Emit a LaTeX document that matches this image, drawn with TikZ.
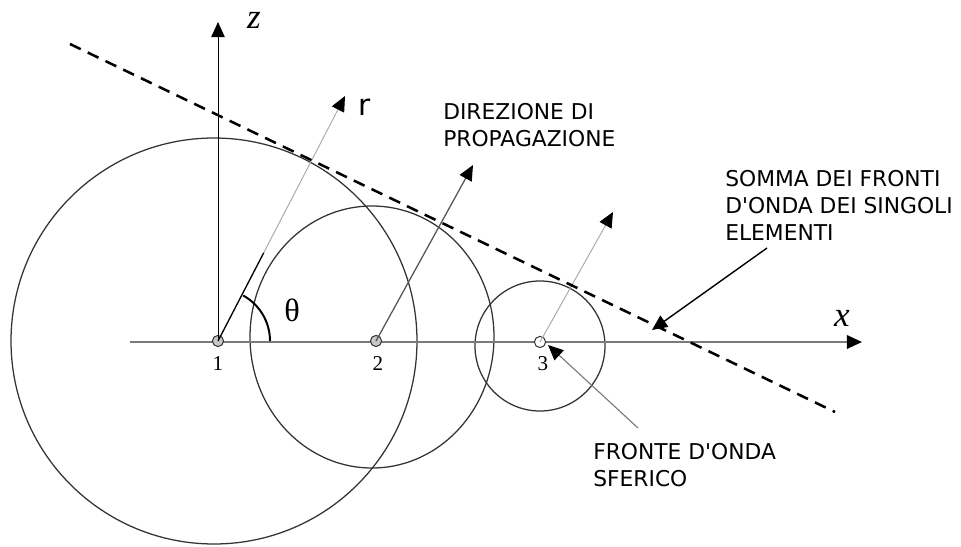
\documentclass[tikz,border=0pt]{standalone}
\usepackage{fontspec}
\setmainfont{Liberation Serif}
\newfontfamily\notefont{DejaVu Sans}
\usetikzlibrary{arrows.meta,calc}
\definecolor{wavegray}{HTML}{333333}
\definecolor{axisgray}{HTML}{7A7A7A}
\definecolor{raylight}{HTML}{ABABAB}
\definecolor{raydark}{HTML}{555555}

\begin{document}
\begin{tikzpicture}[
  x=0.25mm, y=0.25mm,
  every node/.style={inner sep=0pt},
  notetext/.style={font=\notefont\fontsize{15.5}{19.1}\selectfont,align=left,anchor=north west},
  axislabel/.style={font=\fontsize{25}{30}\selectfont\itshape},
  srcnum/.style={font=\fontsize{15}{18}\selectfont},
  source/.style={circle,draw=wavegray,line width=0.7pt,minimum size=2.8mm,fill=gray!45},
  wavefront/.style={draw=wavegray,line width=0.9pt},
  headarrow/.style={-{Triangle[length=3.8mm,width=3.4mm,black]}},
  axisline/.style={headarrow,draw=axisgray,line width=1.4pt},
  rayline/.style={headarrow,line width=0.7pt},
  sumline/.style={black,dashed,line width=1.8pt,dash pattern=on 8.5pt off 5.5pt}
]
\useasboundingbox (0,0) rectangle (961,-547);

% spherical wavefronts
\draw[wavefront] (214,-341) circle[radius=203];
\draw[wavefront] (372,-337) ellipse[x radius=122, y radius=131];
\draw[wavefront] (540,-346) circle[radius=65];

% axes
\coordinate (xstart) at (130,-342);
\coordinate (xend) at (862,-342);
\coordinate (ztop) at (218,-22);
\draw[axisline] (xstart) -- (xend);

% sources
\node[source] (src1) at (218,-341) {};
\node[source] (src2) at (376,-341) {};
\node[source,fill=white] (src3) at (540,-342) {};
\draw[headarrow,black,line width=0.7pt] (src1.center) -- (ztop);

% propagation rays
\coordinate (rtip) at (345,-96);
\coordinate (ptip) at (473,-165);
\coordinate (ftip) at (613,-212);
\draw[rayline,raylight] (src1.center) -- (rtip);
\draw[black,line width=0.9pt] (src1.center) -- ($(src1.center)!0.36!(rtip)$);
\draw[rayline,raydark,line width=0.9pt] (src2.center) -- (ptip);
\draw[rayline,raylight] (src3.center) -- (ftip);
\draw[black,line width=1.4pt] ([xshift=13mm]src1.center) arc[start angle=0,end angle=61,radius=52];

% envelope
\coordinate (envA) at (70,-44);
\coordinate (envB) at (835,-412);
\draw[sumline] (envA) -- (envB);

% labels
\node[axislabel] (zlab) at (254,-20) {z};
\node[axislabel] (xlab) at (842,-318) {x};
\node[font=\fontsize{23}{26}\selectfont] (theta) at (292,-310) {θ};
\node[font=\notefont\fontsize{21}{24}\selectfont] (rlab) at (365,-107) {r};
\node[srcnum] (n1) at (218,-364) {1};
\node[srcnum] (n2) at (378,-364) {2};
\node[srcnum] (n3) at (543,-364) {3};

\node[notetext] (direz) at (443,-103) {DIREZIONE DI\\PROPAGAZIONE};
\node[notetext] (somma) at (725,-170) {SOMMA DEI FRONTI\\D'ONDA DEI SINGOLI\\ELEMENTI};
\node[notetext] (fronte) at (593,-443) {FRONTE D'ONDA\\SFERICO};

\coordinate (sommafoot) at (767,-248);
\coordinate (sommatip) at (652,-330);
\coordinate (frontefoot) at (638,-428);
\coordinate (frontetip) at (548,-345);
\draw[headarrow,black,line width=1pt] (sommafoot) -- (sommatip);
\draw[headarrow,axisgray,line width=0.8pt] (frontefoot) -- (frontetip);
\end{tikzpicture}
\end{document}
